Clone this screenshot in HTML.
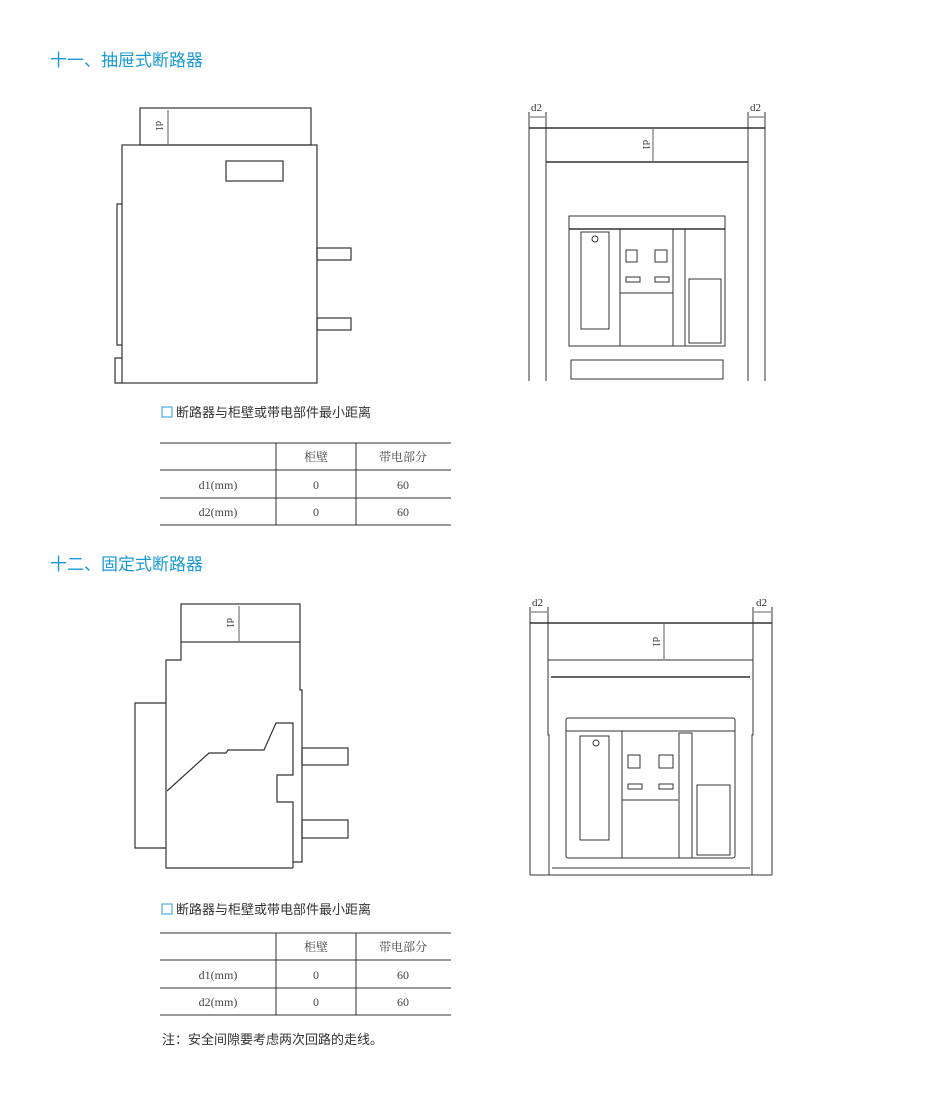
<!DOCTYPE html>
<html><head><meta charset="utf-8"><style>
body{margin:0;background:#fff;width:950px;height:1109px;overflow:hidden}
svg{position:absolute;left:0;top:0}
.t{font-family:"Liberation Sans","Noto Sans CJK SC",sans-serif}
.s{font-family:"Liberation Serif","Noto Serif CJK SC",serif}
</style></head><body>
<svg width="950" height="1109" viewBox="0 0 950 1109" fill="none" stroke="#333" stroke-width="1.2">
<text x="50" y="66" class="t" font-size="17" fill="#1a9ad6" stroke="none">十一、抽屉式断路器</text>
<text x="50" y="570" class="t" font-size="17" fill="#1a9ad6" stroke="none">十二、固定式断路器</text>

<!-- drawing 1 left -->
<rect x="140" y="108" width="171" height="37"/>
<line x1="168" y1="110" x2="168" y2="144" stroke-width="0.8"/>
<text transform="translate(156,126) rotate(90)" class="s" font-size="10" fill="#333" stroke="none" text-anchor="middle">d1</text>
<rect x="122" y="145" width="195" height="238"/>
<rect x="226" y="161" width="57" height="20"/>
<path d="M122 204 H117 V345 H122"/>
<path d="M122 358 H115 V383 H122"/>
<rect x="317" y="248" width="34" height="12"/>
<rect x="317" y="318" width="34" height="12"/>

<!-- drawing 1 right -->
<g stroke-width="1">
<line x1="529" y1="128" x2="765" y2="128" stroke-width="1.4"/>
<line x1="529" y1="112" x2="529" y2="381"/>
<line x1="546" y1="112" x2="546" y2="381"/>
<line x1="748" y1="112" x2="748" y2="381"/>
<line x1="765" y1="112" x2="765" y2="381"/>
<line x1="546" y1="162" x2="748" y2="162" stroke-width="1.4"/>
<line x1="530" y1="117" x2="545" y2="117" stroke-width="0.8"/>
<line x1="749" y1="117" x2="764" y2="117" stroke-width="0.8"/>
<line x1="653" y1="129" x2="653" y2="161" stroke-width="0.8"/>
<rect x="569" y="216" width="156" height="130"/>
<line x1="569" y1="229" x2="725" y2="229" stroke-width="1.4"/>
<rect x="581" y="232" width="28" height="97"/>
<circle cx="595" cy="239" r="3"/>
<line x1="620" y1="229" x2="620" y2="346"/>
<line x1="620" y1="293" x2="673" y2="293"/>
<line x1="673" y1="229" x2="673" y2="346"/>
<line x1="685" y1="229" x2="685" y2="346"/>
<rect x="626" y="250" width="11" height="12"/>
<rect x="655" y="250" width="12" height="12"/>
<rect x="626" y="277" width="14" height="5"/>
<rect x="655" y="277" width="14" height="5"/>
<rect x="689" y="279" width="32" height="64"/>
<rect x="571" y="360" width="152" height="19"/>
</g>
<text x="531" y="111" class="s" font-size="11" fill="#333" stroke="none">d2</text>
<text x="750" y="111" class="s" font-size="11" fill="#333" stroke="none">d2</text>
<text transform="translate(643,145) rotate(90)" class="s" font-size="10" fill="#333" stroke="none" text-anchor="middle">d1</text>

<!-- caption/table 1 -->
<rect x="162" y="407" width="10" height="10" stroke="#4aaee0" stroke-width="1.2"/>
<text x="176" y="417" class="t" font-size="13" fill="#333" stroke="none">断路器与柜壁或带电部件最小距离</text>
<g stroke-width="1">
<line x1="160" y1="443" x2="451" y2="443"/><line x1="160" y1="470" x2="451" y2="470"/>
<line x1="160" y1="498" x2="451" y2="498"/><line x1="160" y1="525" x2="451" y2="525"/>
<line x1="276" y1="443" x2="276" y2="525"/><line x1="356" y1="443" x2="356" y2="525"/>
</g>
<g class="s" font-size="12" fill="#444" stroke="none" text-anchor="middle">
<text x="316" y="461">柜壁</text><text x="403" y="461">带电部分</text>
<text x="218" y="489">d1(mm)</text><text x="316" y="489">0</text><text x="403" y="489">60</text>
<text x="218" y="516">d2(mm)</text><text x="316" y="516">0</text><text x="403" y="516">60</text>
</g>

<!-- drawing 2 left -->
<rect x="181" y="604" width="119" height="38"/>
<line x1="239" y1="606" x2="239" y2="641" stroke-width="0.8"/>
<text transform="translate(227,623) rotate(90)" class="s" font-size="10" fill="#333" stroke="none" text-anchor="middle">d1</text>
<path d="M181 642 V660 H166 V868 H293"/>
<path d="M300 642 V690 H302 V862 H293"/>
<path d="M166 703 H135 V848 H166"/>
<path d="M167 791 L209 753 H226 L228 750 H264 L276 723 H293 V775 H277 V802 H293 V868"/>
<rect x="302" y="748" width="46" height="17"/>
<rect x="302" y="820" width="46" height="18"/>

<!-- drawing 2 right -->
<g stroke-width="1">
<line x1="530" y1="623" x2="772" y2="623" stroke-width="1.4"/>
<line x1="530" y1="607" x2="530" y2="875"/>
<line x1="772" y1="607" x2="772" y2="875"/>
<line x1="548" y1="607" x2="548" y2="660"/>
<line x1="753" y1="607" x2="753" y2="660"/>
<path d="M549 875 V735 H548 V660 H753 V735 H752 V875" />
<line x1="530" y1="875" x2="772" y2="875"/>
<line x1="551" y1="677" x2="750" y2="677" stroke-width="1.4"/>
<line x1="552" y1="868" x2="750" y2="868"/>
<line x1="531" y1="612" x2="547" y2="612" stroke-width="0.8"/>
<line x1="754" y1="612" x2="771" y2="612" stroke-width="0.8"/>
<line x1="664" y1="624" x2="664" y2="659" stroke-width="0.8"/>
<rect x="566" y="718" width="169" height="140" rx="2"/>
<line x1="566" y1="731" x2="735" y2="731"/>
<rect x="580" y="736" width="29" height="104"/>
<circle cx="596" cy="743" r="3"/>
<line x1="622" y1="731" x2="622" y2="858"/>
<line x1="622" y1="800" x2="678" y2="800"/>
<rect x="679" y="733" width="13" height="125"/>
<rect x="628" y="755" width="12" height="13"/>
<rect x="659" y="755" width="14" height="13"/>
<rect x="628" y="784" width="14" height="5"/>
<rect x="659" y="784" width="14" height="5"/>
<rect x="697" y="785" width="33" height="70"/>
</g>
<text x="532" y="606" class="s" font-size="11" fill="#333" stroke="none">d2</text>
<text x="756" y="606" class="s" font-size="11" fill="#333" stroke="none">d2</text>
<text transform="translate(653,642) rotate(90)" class="s" font-size="10" fill="#333" stroke="none" text-anchor="middle">d1</text>

<!-- caption/table 2 -->
<rect x="162" y="904" width="10" height="10" stroke="#4aaee0" stroke-width="1.2"/>
<text x="176" y="914" class="t" font-size="13" fill="#333" stroke="none">断路器与柜壁或带电部件最小距离</text>
<g stroke-width="1">
<line x1="160" y1="933" x2="451" y2="933"/><line x1="160" y1="960" x2="451" y2="960"/>
<line x1="160" y1="988" x2="451" y2="988"/><line x1="160" y1="1015" x2="451" y2="1015"/>
<line x1="276" y1="933" x2="276" y2="1015"/><line x1="356" y1="933" x2="356" y2="1015"/>
</g>
<g class="s" font-size="12" fill="#444" stroke="none" text-anchor="middle">
<text x="316" y="951">柜壁</text><text x="403" y="951">带电部分</text>
<text x="218" y="979">d1(mm)</text><text x="316" y="979">0</text><text x="403" y="979">60</text>
<text x="218" y="1006">d2(mm)</text><text x="316" y="1006">0</text><text x="403" y="1006">60</text>
</g>
<text x="162" y="1044" class="t" font-size="13" fill="#333" stroke="none">注：安全间隙要考虑两次回路的走线。</text>
</svg>
</body></html>
